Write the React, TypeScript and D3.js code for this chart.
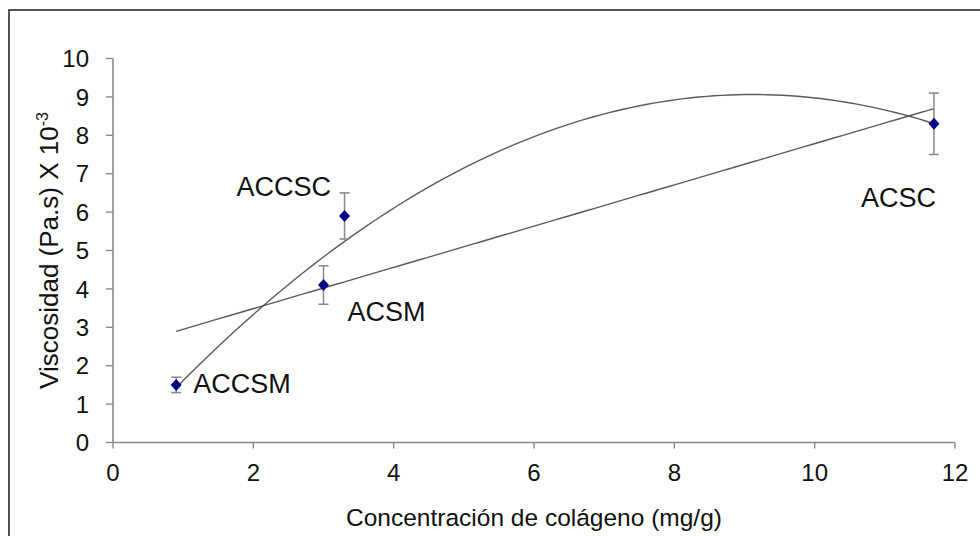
import React from 'react'
import * as d3 from 'd3'

// muestras
const labels = ['ACCSM', 'ACSM', 'ACCSC', 'ACSC']
const concentracion = [0.9, 3.0, 3.3, 11.7]
const viscosidad = [1.5, 4.1, 5.9, 8.3]
const errores = [0.2, 0.5, 0.6, 0.8]
const xTicks = [0, 2, 4, 6, 8, 10, 12]
const yTicks = [0, 1, 2, 3, 4, 5, 6, 7, 8, 9, 10]

// label offsets relative to the point (px)
const labelPos: Record<string, [number, number]> = {
  ACCSM: [17, 8],
  ACSM: [24, 36],
  ACCSC: [-108, -20],
  ACSC: [-73, 83],
}

const W = 980
const H = 536
const font = 'Arial, "Liberation Sans", sans-serif'

// least squares polynomial fit
const polyFit = (xs: number[], ys: number[], order: number) => {
  const n = order + 1
  const A = d3.range(n).map(i => d3.range(n + 1).map(j => {
    if (j < n) return d3.sum(xs, x => Math.pow(x, i + j))
    return d3.sum(xs, (x, k) => Math.pow(x, i) * ys[k])
  }))
  for (let c = 0; c < n; c++) {
    let p = c
    for (let r = c + 1; r < n; r++) if (Math.abs(A[r][c]) > Math.abs(A[p][c])) p = r
    ;[A[c], A[p]] = [A[p], A[c]]
    for (let r = 0; r < n; r++) {
      if (r === c) continue
      const f = A[r][c] / A[c][c]
      for (let k = c; k <= n; k++) A[r][k] -= f * A[c][k]
    }
  }
  const coef = d3.range(n).map(i => A[i][n] / A[i][i])
  return (x: number) => d3.sum(coef, (c, i) => c * Math.pow(x, i))
}

const App = () => {
  const x = d3.scaleLinear().domain([0, 12]).range([113, 955])
  const y = d3.scaleLinear().domain([0, 10]).range([442.5, 58.5])

  const lin = polyFit(concentracion, viscosidad, 1)
  const quad = polyFit(concentracion, viscosidad, 2)
  const [x0, x1] = d3.extent(concentracion) as [number, number]
  const xs = d3.range(0, 101).map(i => x0 + (x1 - x0) * i / 100)
  const line = d3.line<number>().x(d => x(d))
  const axisColor = '#8a8a8a'

  return (
    <svg width={W} height={H} style={{position: 'absolute', left: 0, top: 0, background: '#fff'}}>
      <rect x={9} y={10} width={W + 20} height={H + 20} fill="#fff" stroke="#2a2a2a" strokeWidth={1.6} />

      {/* axes */}
      <line x1={x(0)} x2={x(0)} y1={y(0)} y2={y(10)} stroke={axisColor} strokeWidth={1.6} />
      <line x1={x(0)} x2={x(12)} y1={y(0)} y2={y(0)} stroke={axisColor} strokeWidth={1.6} />
      {yTicks.map(t => (
        <g key={'y' + t}>
          <line x1={x(0) - 7} x2={x(0)} y1={y(t)} y2={y(t)} stroke={axisColor} strokeWidth={1.4} />
          <text x={89} y={y(t)} dy="0.36em" textAnchor="end" fontFamily={font} fontSize={24} fill="#111">{t}</text>
        </g>
      ))}
      {xTicks.map(t => (
        <g key={'x' + t}>
          <line x1={x(t)} x2={x(t)} y1={y(0)} y2={y(0) + 6} stroke={axisColor} strokeWidth={1.4} />
          <text x={x(t)} y={481} textAnchor="middle" fontFamily={font} fontSize={24} fill="#111">{t}</text>
        </g>
      ))}

      {/* titles */}
      <text x={534} y={526} textAnchor="middle" fontFamily={font} fontSize={24.5} fill="#111">
        Concentración de colágeno (mg/g)
      </text>
      <text transform={`translate(58, ${(y(0) + y(10)) / 2}) rotate(-90)`} textAnchor="middle" fontFamily={font} fontSize={26} fill="#111">
        Viscosidad (Pa.s) X 10<tspan fontSize={16} dy={-10}>-3</tspan>
      </text>

      {/* trend lines */}
      <path d={line.y(d => y(lin(d)))(xs) || ''} fill="none" stroke="#5a5a5a" strokeWidth={1.4} />
      <path d={line.y(d => y(quad(d)))(xs) || ''} fill="none" stroke="#5a5a5a" strokeWidth={1.4} />

      {/* error bars + points */}
      {concentracion.map((c, i) => {
        const cx = x(c)
        const cy = y(viscosidad[i])
        const top = y(viscosidad[i] + errores[i])
        const bot = y(viscosidad[i] - errores[i])
        const [dx, dy] = labelPos[labels[i]]
        return (
          <g key={labels[i]}>
            <line x1={cx} x2={cx} y1={top} y2={bot} stroke="#888" strokeWidth={1.5} />
            <line x1={cx - 5} x2={cx + 5} y1={top} y2={top} stroke="#888" strokeWidth={1.5} />
            <line x1={cx - 5} x2={cx + 5} y1={bot} y2={bot} stroke="#888" strokeWidth={1.5} />
            <path d={`M${cx},${cy - 6}L${cx + 5.5},${cy}L${cx},${cy + 6}L${cx - 5.5},${cy}Z`} fill="#000085" />
            <text x={cx + dx} y={cy + dy} fontFamily={font} fontSize={27} fill="#111">{labels[i]}</text>
          </g>
        )
      })}
    </svg>
  )
}

export default App
